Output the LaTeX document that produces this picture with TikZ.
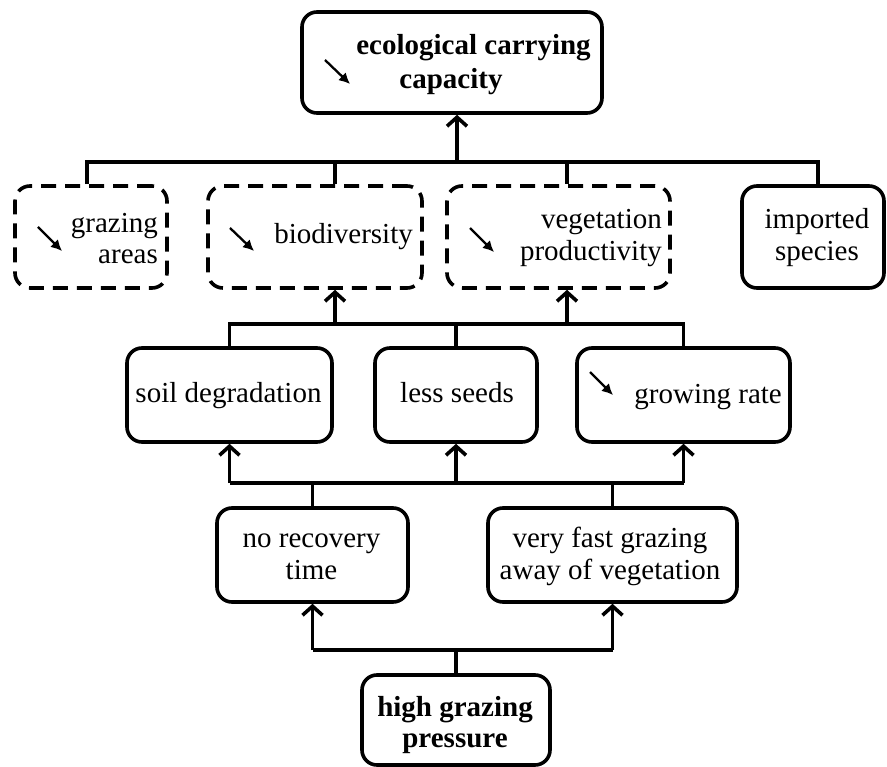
\documentclass[tikz,border=0pt]{standalone}
\usepackage{fontspec}
\setmainfont{Liberation Serif}
\usetikzlibrary{arrows.meta}
\begin{document}
\begin{tikzpicture}[x=1pt,y=-1pt,
  box/.style={draw, line width=3.6pt, rounded corners=15pt, inner sep=0pt},
  dbox/.style={box, dash pattern=on 15pt off 9pt},
  txt/.style={inner sep=0pt, font=\fontsize{29}{32}\selectfont},
  ctxt/.style={txt, align=center, anchor=base},
  rtxt/.style={txt, align=right, anchor=base east},
  conn/.style={line width=3.6pt},
  arr/.style={line width=3.6pt, -{Straight Barb[length=9pt,width=20pt]}},
  down/.style={line width=2.3pt, -{Latex[length=11pt,width=11pt]}}]
\useasboundingbox (0,0) rectangle (887,767);

% boxes
\node[box, minimum width=300pt, minimum height=101pt] (tp) at (452,62.5) {};
\node[dbox, minimum width=152pt, minimum height=102pt] (ga) at (91,237) {};
\node[dbox, minimum width=214pt, minimum height=102pt] (bd) at (315,237) {};
\node[dbox, minimum width=223pt, minimum height=102pt] (vp) at (558.5,237) {};
\node[box, minimum width=142pt, minimum height=102pt] (is) at (813,237) {};
\node[box, minimum width=205pt, minimum height=94pt] (sd) at (229.5,395) {};
\node[box, minimum width=162pt, minimum height=94pt] (ls) at (456,395) {};
\node[box, minimum width=213pt, minimum height=94pt] (gr) at (683.5,395) {};
\node[box, minimum width=191pt, minimum height=94pt] (nr) at (312.5,555) {};
\node[box, minimum width=249pt, minimum height=94pt] (vf) at (612.5,555) {};
\node[box, minimum width=188pt, minimum height=90pt] (hg) at (456,720) {};

% texts (base anchor = baseline of the last line)
\node[ctxt, font=\fontsize{29}{33.5}\selectfont\bfseries] (tpt) at (473.5,88.5) {ecological carrying\\capacity\hspace*{45pt}};
\node[rtxt, font=\fontsize{29}{31}\selectfont] (gat) at (158,263.5) {grazing\\areas};
\node[rtxt] (bdt) at (413,244) {biodiversity};
\node[rtxt] (vpt) at (662,261) {vegetation\\productivity};
\node[ctxt] (ist) at (817,261) {imported\\species};
\node[ctxt] (sdt) at (228.5,402.5) {soil degradation};
\node[ctxt] (lst) at (457,402.5) {less seeds};
\node[rtxt] (grt) at (782,404) {growing rate};
\node[ctxt] (nrt) at (311.5,579.5) {no recovery\\time};
\node[ctxt] (vft) at (610,579.5) {very fast grazing\\away of vegetation};
\node[ctxt, font=\fontsize{29}{31.5}\selectfont\bfseries] (hgt) at (455,747.5) {high grazing\\pressure};

% small decrease arrows
\draw[down] (325,60) -- (350,84);
\draw[down] (38,227) -- (62,251);
\draw[down] (230,228) -- (254,251);
\draw[down] (470,228) -- (494,252);
\draw[down] (590,372) -- (613,395);

% bus 1
\coordinate (b1a) at (87,162);
\coordinate (b1b) at (335,162);
\coordinate (b1c) at (567,162);
\coordinate (b1d) at (818,162);
\coordinate (b1m) at (457,162);
\draw[conn] (b1a |- ga.north) -- (b1a) -- (b1d) -- (b1d |- is.north);
\draw[conn] (b1b) -- (b1b |- bd.north);
\draw[conn] (b1c) -- (b1c |- vp.north);
\draw[arr] (b1m) -- (b1m |- tp.south);

% bus 2
\coordinate (b2) at (457,324);
\coordinate (b2a) at (335,324);
\coordinate (b2b) at (567,324);
\draw[conn] (sd.north) |- (b2) -| (gr.north);
\draw[conn] (ls.north) -- (ls.north |- b2);
\draw[arr] (b2a) -- (b2a |- bd.south);
\draw[arr] (b2b) -- (b2b |- vp.south);

% bus 3
\coordinate (b3) at (457,483);
\draw[conn] (sd.south |- b3) -- (gr.south |- b3);
\draw[arr] (sd.south |- b3) -- (sd.south);
\draw[arr] (ls.south |- b3) -- (ls.south);
\draw[arr] (gr.south |- b3) -- (gr.south);
\draw[conn] (nr.north) -- (nr.north |- b3);
\draw[conn] (vf.north) -- (vf.north |- b3);

% bus 4
\coordinate (b4) at (457,650);
\draw[conn] (nr.south |- b4) -- (vf.south |- b4);
\draw[arr] (nr.south |- b4) -- (nr.south);
\draw[arr] (vf.south |- b4) -- (vf.south);
\draw[conn] (hg.north) -- (hg.north |- b4);
\end{tikzpicture}
\end{document}
